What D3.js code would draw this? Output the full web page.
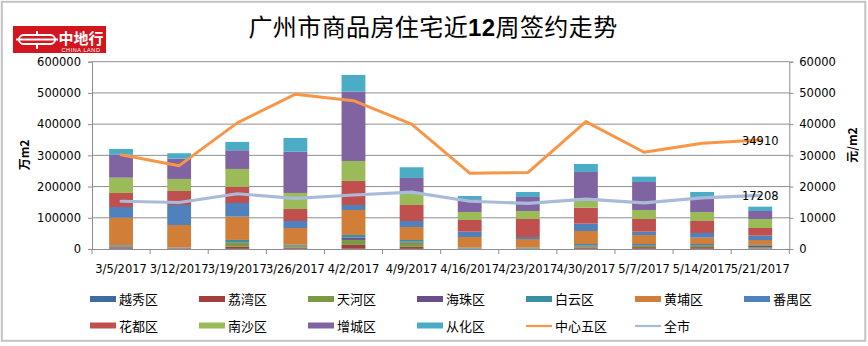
<!DOCTYPE html>
<html>
<head>
<meta charset="utf-8">
<script src="https://cdn.jsdelivr.net/npm/d3@7/dist/d3.min.js"></script>
<style>
html,body{margin:0;padding:0;background:#fff;}
svg{display:block;}
</style>
</head>
<body>
<svg id="chart" width="868" height="346"></svg>
<script>
const categories = ["3/5/2017","3/12/2017","3/19/2017","3/26/2017","4/2/2017","4/9/2017","4/16/2017","4/23/2017","4/30/2017","5/7/2017","5/14/2017","5/21/2017"];
const districts = ["越秀区","荔湾区","天河区","海珠区","白云区","黄埔区","番禺区","花都区","南沙区","增城区","从化区"];
const districtColors = ["#3f6c9f","#a03f3d","#7c9a43","#684f8a","#3a8fa3","#d07e38","#4f81bd","#c0504d","#9bbb59","#8064a2","#4bacc6"];
// area values per district, one array per district (same order as categories)
const yuexiu  = [2000,1500,500,1000,1000,500,500,500,1000,1000,1000,1000];
const liwan   = [3500,1000,6500,3000,12000,6500,500,500,4000,5000,5000,1000];
const tianhe  = [2000,500,13500,5000,16000,13500,500,500,4000,4000,4000,4000];
const haizhu  = [1500,1000,1500,1500,7500,3000,500,500,2000,2000,2000,5000];
const baiyun  = [3000,1000,7000,3000,8500,5300,2500,2500,5000,4000,4000,2000];
const huangpu = [88300,71900,74600,53800,80000,41700,34000,27500,41700,28900,20300,15800];
const panyu   = [34300,64100,43800,22400,16000,19200,17000,6500,23400,10600,15000,13900];
const huadu   = [44900,44900,51300,38500,77000,51300,37400,57700,51300,40700,38400,24600];
const nansha  = [49000,38500,57700,51300,64000,36300,25700,25600,30000,28800,28900,28900];
const zengcheng = [73500,65100,59900,132500,222200,50300,40600,44900,84400,89700,48100,25600];
const conghua = [18500,17200,26700,43800,53500,34200,10700,16000,25600,17000,16000,13800];
const districtValues = [yuexiu,liwan,tianhe,haizhu,baiyun,huangpu,panyu,huadu,nansha,zengcheng,conghua];
// price lines (元/m2)
const centerFive = [30200,26700,40400,49600,47500,40000,24300,24500,40800,31000,33900,34910];
const wholeCity  = [15300,14900,17700,16200,17300,18200,15300,14600,16000,14800,16400,17208];
const leftTicks = [0,100000,200000,300000,400000,500000,600000];
const rightTicks = [0,10000,20000,30000,40000,50000,60000];
const title = "广州市商品房住宅近12周签约走势";
const leftLabel = "万m2";
const rightLabel = "元/m2";
const lineNames = ["中心五区","全市"];
const lineColors = ["#f79646","#a9bbd9"];

const svg = d3.select("#chart");
const X0 = 92, X1 = 789.3, YB = 249, YT = 61.7;
const font = "'DejaVu Sans', Verdana, sans-serif";
const cjk = "'Noto Sans CJK SC', 'Noto Sans', sans-serif";

// border
svg.append("rect").attr("x",1.8).attr("y",1.8).attr("width",863.5).attr("height",339)
  .attr("fill","#fff").attr("stroke","#c3c3c3").attr("stroke-width",2);

// logo
const logo = svg.append("g");
logo.append("rect").attr("x",13).attr("y",26).attr("width",93).attr("height",27).attr("fill","#d2151e");
logo.append("rect").attr("x",19).attr("y",35).attr("width",36).attr("height",9).attr("rx",4.5)
  .attr("fill","none").attr("stroke","#fff").attr("stroke-width",1.8);
logo.append("line").attr("x1",16).attr("x2",58).attr("y1",39.5).attr("y2",39.5).attr("stroke","#fff").attr("stroke-width",1.8);
logo.append("path").attr("d","M37 31 L37 35 M37 44 L37 49").attr("stroke","#fff").attr("stroke-width",2).attr("fill","none");
logo.append("text").attr("x",81).attr("y",44).attr("text-anchor","middle").attr("fill","#fff")
  .attr("font-family",cjk).attr("font-weight","bold").attr("font-size",15).text("中地行");
logo.append("text").attr("x",81).attr("y",51.5).attr("text-anchor","middle").attr("fill","#fff")
  .attr("font-family","'Liberation Sans', Arial, sans-serif").attr("font-size",5.5).attr("letter-spacing",0.6).text("CHINA LAND");

// title
const t = svg.append("text").attr("x",433).attr("y",36).attr("text-anchor","middle")
  .attr("font-family",cjk).attr("font-size",24).attr("letter-spacing",0.4).attr("fill","#000");
const parts = title.split("12");
t.append("tspan").text(parts[0]);
t.append("tspan").attr("font-family","'Liberation Sans', Arial, sans-serif").attr("font-weight","bold").text("12");
t.append("tspan").text(parts[1]);

// scales
const x = d3.scaleBand().domain(categories).range([X0,X1]).paddingInner(0.59).paddingOuter(0.295);
const y = d3.scaleLinear().domain([0,600000]).range([YB,YT]);
const y2 = d3.scaleLinear().domain([0,60000]).range([YB,YT]);

// gridlines
svg.append("g").selectAll("line").data(leftTicks.slice(1)).join("line")
  .attr("x1",X0).attr("x2",X1).attr("y1",d=>y(d)).attr("y2",d=>y(d))
  .attr("stroke","#8e8e8e").attr("stroke-width",1);

// stacked bars
const table = categories.map((c,i)=>{
  const o = {cat:c};
  districts.forEach((d,j)=>{ o[d] = districtValues[j][i]; });
  return o;
});
const stack = d3.stack().keys(districts)(table);
const gBars = svg.append("g");
stack.forEach((layer,j)=>{
  gBars.append("g").attr("fill",districtColors[j]).selectAll("rect").data(layer).join("rect")
    .attr("x",d=>x(d.data.cat)).attr("width",x.bandwidth())
    .attr("y",d=>y(d[1])).attr("height",d=>Math.max(0,y(d[0])-y(d[1])));
});

// axes
const axL = svg.append("g").attr("transform",`translate(${X0},0)`)
  .call(d3.axisLeft(y).tickValues(leftTicks).tickSize(4).tickPadding(7).tickFormat(d3.format("d")));
const axR = svg.append("g").attr("transform",`translate(${X1},0)`)
  .call(d3.axisRight(y2).tickValues(rightTicks).tickSize(4).tickPadding(6).tickFormat(d3.format("d")));
const axB = svg.append("g").attr("transform",`translate(0,${YB})`)
  .call(d3.axisBottom(x).tickSize(0).tickPadding(16));
[axL,axR,axB].forEach(a=>{
  a.select(".domain").attr("stroke","#8e8e8e");
  a.selectAll(".tick line").attr("stroke","#8e8e8e");
  a.selectAll("text").attr("font-family",font).attr("font-size",11.5).attr("fill","#000");
});
axB.select(".domain").attr("d",`M${X0},0.5H${X1}`);
// category boundary ticks
const step = x.step();
svg.append("g").selectAll("line").data(d3.range(categories.length+1)).join("line")
  .attr("x1",i=>X0+i*step).attr("x2",i=>X0+i*step).attr("y1",YB).attr("y2",YB+5)
  .attr("stroke","#8e8e8e");

// axis titles
svg.append("text").attr("transform","translate(29,155) rotate(-90)").attr("text-anchor","middle")
  .attr("font-family",cjk).attr("font-weight","bold").attr("font-size",12).text(leftLabel);
svg.append("text").attr("transform","translate(857,145) rotate(-90)").attr("text-anchor","middle")
  .attr("font-family",cjk).attr("font-weight","bold").attr("font-size",12).text(rightLabel);

// lines
const cx = c => x(c)+x.bandwidth()/2;
[centerFive, wholeCity].forEach((vals,k)=>{
  const line = d3.line().x((d,i)=>cx(categories[i])).y(d=>y2(d));
  svg.append("path").datum(vals).attr("d",line).attr("fill","none")
    .attr("stroke",lineColors[k]).attr("stroke-width",k===0?3:3.2).attr("stroke-linejoin","round").attr("stroke-linecap","round");
});
// end labels
[centerFive, wholeCity].forEach(vals=>{
  const n = vals.length-1;
  svg.append("text").attr("x",cx(categories[n])).attr("y",y2(vals[n])+4.5).attr("text-anchor","middle")
    .attr("font-family",font).attr("font-size",11.5).attr("fill","#000").text(vals[n]);
});

// legend
const legendItems = districts.map((d,j)=>({name:d,color:districtColors[j],type:"bar"}))
  .concat(lineNames.map((d,k)=>({name:d,color:lineColors[k],type:"line"})));
const lg = svg.append("g");
legendItems.forEach((it,i)=>{
  const col = i%7, row = Math.floor(i/7);
  const lx = 90 + col*109, ly = row===0 ? 299.5 : 326;
  if(it.type==="bar"){
    lg.append("rect").attr("x",lx).attr("y",ly-3.5).attr("width",26).attr("height",6).attr("fill",it.color);
  } else {
    lg.append("line").attr("x1",lx).attr("x2",lx+26).attr("y1",ly).attr("y2",ly).attr("stroke",it.color).attr("stroke-width",2.2);
  }
  lg.append("text").attr("x",lx+29).attr("y",ly+4.5).attr("font-family",cjk).attr("font-size",13).attr("fill","#000").text(it.name);
});
</script>
</body>
</html>
